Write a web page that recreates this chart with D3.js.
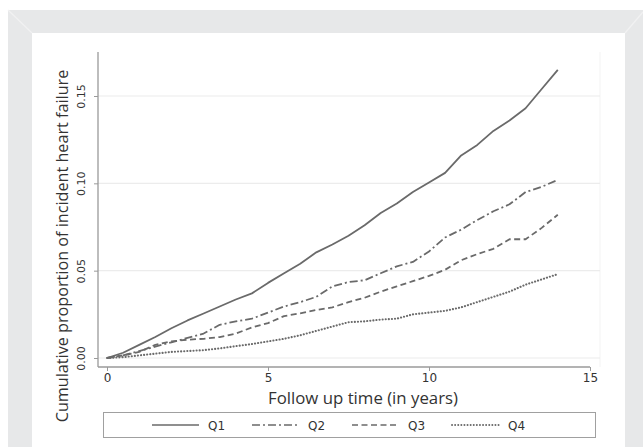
<!DOCTYPE html>
<html>
<head>
<meta charset="utf-8">
<script src="https://cdn.jsdelivr.net/npm/d3@7/dist/d3.min.js"></script>
<style>
  html, body { margin: 0; padding: 0; background: #ffffff; }
  svg { display: block; }
  text { font-family: "Open Sans", "Liberation Sans", sans-serif; fill: #333; }
</style>
</head>
<body>
<svg id="chart" width="643" height="447"></svg>
<script>
// ---- data ----
const years = [0,0.5,1,1.5,2,2.5,3,3.5,4,4.5,5,5.5,6,6.5,7,7.5,8,8.5,9,9.5,10,10.5,11,11.5,12,12.5,13,13.5,14];
const q1 = [0,0.003,0.0075,0.012,0.017,0.0215,0.0255,0.0295,0.0335,0.037,0.043,0.0485,0.054,0.0605,0.065,0.070,0.076,0.083,0.0885,0.095,0.1005,0.106,0.116,0.122,0.130,0.136,0.143,0.154,0.165];
const q2 = [0,0.0015,0.004,0.0065,0.009,0.0115,0.014,0.019,0.021,0.0225,0.026,0.0295,0.032,0.035,0.041,0.0435,0.0445,0.0485,0.0525,0.055,0.061,0.069,0.0735,0.079,0.084,0.088,0.095,0.098,0.102];
const q3 = [0,0.0015,0.0035,0.0075,0.0095,0.0105,0.011,0.012,0.014,0.0175,0.020,0.024,0.0256,0.0275,0.029,0.032,0.0345,0.038,0.041,0.044,0.047,0.0505,0.056,0.0595,0.0625,0.068,0.068,0.0745,0.082];
const q4 = [0,0.0005,0.0015,0.0025,0.0035,0.004,0.0045,0.0055,0.0068,0.008,0.0095,0.011,0.013,0.0155,0.018,0.0205,0.021,0.022,0.0225,0.025,0.026,0.027,0.029,0.032,0.035,0.038,0.042,0.045,0.048];
const seriesNames = ["Q1","Q2","Q3","Q4"];
const xTicks = [0,5,10,15];
const yTicks = [0,0.05,0.10,0.15];
const yTickLabels = ["0.00","0.05","0.10","0.15"];
const xTitle = "Follow up time (in years)";
const yTitle = "Cumulative proportion of incident heart failure";

// ---- styling ----
const lineColor = "#6a6a6a";
const dashes = [null, "8,3,2,3", "6,3.5", "0.1,3"];
const caps = ["butt", "butt", "butt", "round"];
const widths = [1.8, 1.8, 1.8, 2.1];
const seriesValues = [q1, q2, q3, q4];

const svg = d3.select("#chart");

// frame
svg.append("rect").attr("x", 8).attr("y", 10).attr("width", 635).attr("height", 437).attr("fill", "#e7e8e9");
svg.append("line").attr("x1", 8).attr("y1", 10).attr("x2", 32).attr("y2", 33).attr("stroke", "#f1f1f2").attr("stroke-width", 1.2);
svg.append("line").attr("x1", 643).attr("y1", 12).attr("x2", 625).attr("y2", 33).attr("stroke", "#f1f1f2").attr("stroke-width", 1.2);
svg.append("rect").attr("x", 32).attr("y", 33).attr("width", 593).attr("height", 414).attr("fill", "#ffffff");

// scales
const x = d3.scaleLinear().domain([0, 15]).range([107, 590]);
const y = d3.scaleLinear().domain([0, 0.15]).range([358, 96]);
const plotLeft = 98, plotRight = 600, plotTop = 52, plotBottom = 367;

// faint plot region border
svg.append("line").attr("x1", plotRight).attr("x2", plotRight).attr("y1", plotTop).attr("y2", plotBottom)
  .attr("stroke", "#f3f3f3").attr("stroke-width", 1);

// gridlines
svg.append("g").selectAll("line").data(yTicks).join("line")
  .attr("x1", plotLeft).attr("x2", plotRight)
  .attr("y1", d => y(d)).attr("y2", d => y(d))
  .attr("stroke", "#ececec").attr("stroke-width", 1.2);

// y axis
const yAxis = d3.axisLeft(y).tickValues(yTicks).tickSize(4).tickPadding(7)
  .tickFormat((d, i) => yTickLabels[i]);
const gy = svg.append("g").attr("transform", `translate(${plotLeft},0)`).call(yAxis);
gy.select(".domain").attr("d", `M0,${plotTop}V${plotBottom}`).attr("stroke", "#9a9a9a").attr("stroke-width", 1.3);
gy.selectAll(".tick line").attr("stroke", "#9a9a9a");
gy.selectAll(".tick text")
  .attr("x", null).attr("dy", null)
  .attr("transform", "translate(-13,0) rotate(-90)")
  .attr("text-anchor", "middle")
  .attr("dominant-baseline", "auto")
  .attr("font-size", 11)
  .style("font-family", "'DejaVu Sans', sans-serif")
  .attr("fill", "#444");

// x axis
const xAxis = d3.axisBottom(x).tickValues(xTicks).tickSize(4).tickPadding(2).tickFormat(d3.format("d"));
const gx = svg.append("g").attr("transform", `translate(0,${plotBottom})`).call(xAxis);
gx.select(".domain").attr("d", `M${plotLeft},0H${x(15)}`).attr("stroke", "#9a9a9a").attr("stroke-width", 1.3);
gx.selectAll(".tick line").attr("stroke", "#9a9a9a");
gx.selectAll(".tick text").attr("font-size", 12).style("font-family", "'DejaVu Sans', sans-serif").attr("fill", "#333");

// helper to fit text to a target length
function fit(sel, target) {
  const n = sel.node();
  const fs = parseFloat(sel.attr("font-size"));
  const len = n.getComputedTextLength();
  if (len > 0) sel.attr("font-size", (fs * target / len).toFixed(2));
}

// axis titles
const xt = svg.append("text").attr("x", 363).attr("y", 404).attr("text-anchor", "middle")
  .attr("font-size", 16).attr("fill", "#2e2e2e").text(xTitle);
fit(xt, 190);
const yt = svg.append("text").attr("transform", "translate(68,246) rotate(-90)").attr("text-anchor", "middle")
  .attr("font-size", 16).attr("fill", "#2e2e2e").text(yTitle);
fit(yt, 353);

// lines
const line = d3.line().x((d, i) => x(years[i])).y(d => y(d)).curve(d3.curveLinear);
svg.append("g").selectAll("path").data(seriesValues).join("path")
  .attr("d", d => line(d))
  .attr("fill", "none")
  .attr("stroke", lineColor)
  .attr("stroke-width", (d, i) => widths[i])
  .attr("stroke-linejoin", "round")
  .attr("stroke-linecap", (d, i) => caps[i])
  .attr("stroke-dasharray", (d, i) => dashes[i]);

// legend
const lg = svg.append("g");
lg.append("rect").attr("x", 103.5).attr("y", 412.5).attr("width", 492).attr("height", 25)
  .attr("fill", "#fff").attr("stroke", "#a0a0a0").attr("stroke-width", 1);
const legendX = d3.scalePoint().domain(seriesNames).range([152, 452]);
const items = lg.selectAll("g.item").data(seriesNames).join("g").attr("class", "item")
  .attr("transform", d => `translate(${legendX(d)},425)`);
items.append("line").attr("x1", 0).attr("x2", 47).attr("y1", 0).attr("y2", 0)
  .attr("stroke", lineColor).attr("stroke-width", (d, i) => i === 3 ? 1.9 : 1.6)
  .attr("stroke-linecap", (d, i) => caps[i])
  .attr("stroke-dasharray", (d, i) => dashes[i]);
items.append("text").attr("x", 56).attr("y", 4.5).attr("font-size", 12)
  .style("font-family", "'DejaVu Sans', sans-serif").attr("fill", "#333").text(d => d);
</script>
</body>
</html>
